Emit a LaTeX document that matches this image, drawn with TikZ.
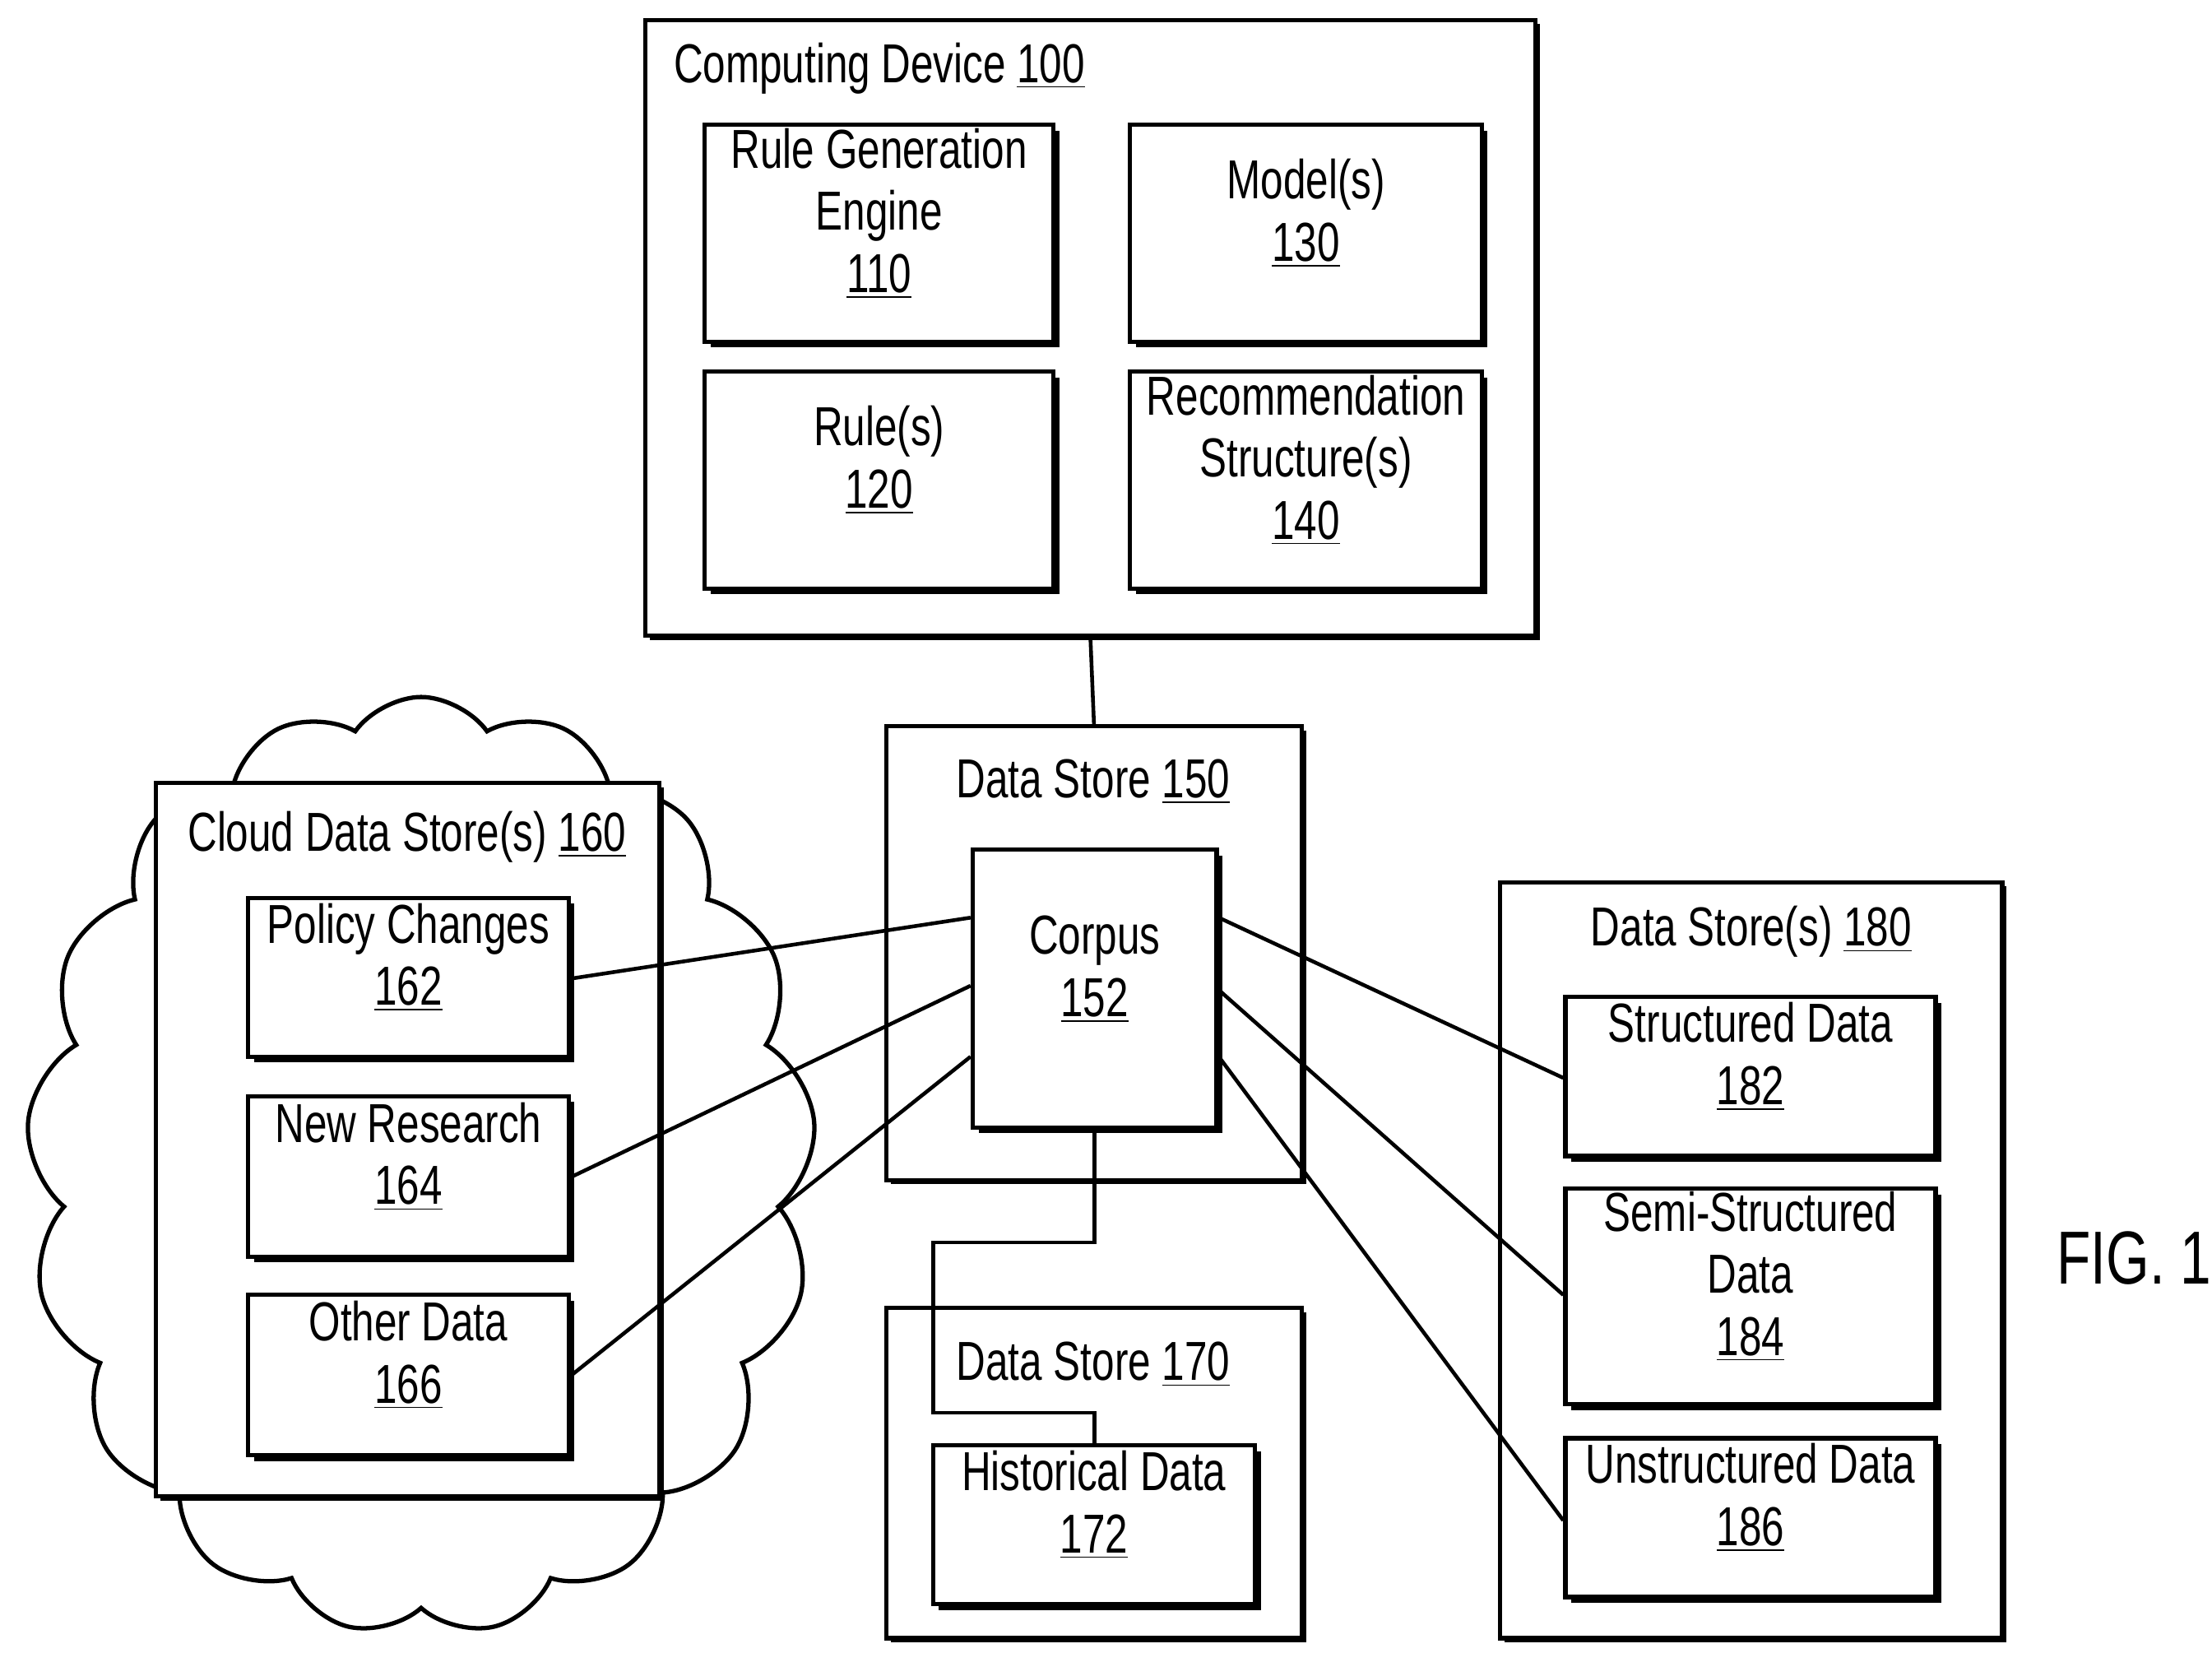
\documentclass[tikz,border=0pt]{standalone}
\usepackage{fontspec}
\setmainfont[FakeStretch=0.74]{Liberation Sans}
\usetikzlibrary{fit,shadows,shapes.symbols}
\begin{document}
\begin{tikzpicture}[x=0.01724cm,y=-0.01724cm,
 box/.style={draw,line width=1.5pt,fill=white,inner sep=0pt,align=center,
   font=\fontsize{19}{21.5}\selectfont,
   general shadow={fill=black,shadow xshift=2pt,shadow yshift=-2pt}},
 cont/.style={draw,line width=1.5pt,fill=white,inner sep=0pt,
   general shadow={fill=black,shadow xshift=1.5pt,shadow yshift=-1.5pt}},
 ttl/.style={font=\fontsize{19}{21.5}\selectfont},
 ln/.style={line width=1.3pt}]
\useasboundingbox (0,0) rectangle (1560,1165);
% computing device
\node[cont,fit={(455,14) (1083,448)}] (cd) {};
\node[ttl,anchor=west] (cdt) at (468,48) {Computing Device \underline{100}};
\node[box,fit={(497,88) (743,241)}] (rge) {Rule Generation\\Engine\\\underline{110}};
\node[box,fit={(797,88) (1045,241)}] (mod) {Model(s)\\\underline{130}};
\node[box,fit={(497,262) (743,415)}] (rul) {Rule(s)\\\underline{120}};
\node[box,fit={(797,262) (1045,415)}] (rec) {Recommendation\\Structure(s)\\\underline{140}};
% cloud
\node[draw,line width=1.5pt,cloud,cloud puffs=17,cloud puff arc=110,aspect=0.8,
  minimum width=9.6cm,minimum height=11.4cm] (cloud) at (297,822) {};
\node[cont,fit={(110,552) (465,1055)}] (cds) {};
\node[ttl] (cdst) at (287,590) {Cloud Data Store(s) \underline{160}};
\node[box,fit={(175,633) (401,745)}] (pc) {Policy Changes\\\underline{162}};
\node[box,fit={(175,773) (401,886)}] (nr) {New Research\\\underline{164}};
\node[box,fit={(175,913) (401,1026)}] (od) {Other Data\\\underline{166}};
% data store 150
\node[cont,fit={(625,512) (918,832)}] (ds150) {};
\node[ttl] (ds150t) at (771,551) {Data Store \underline{150}};
\node[box,fit={(686,599) (858,795)}] (corp) {Corpus\\\underline{152}};
% data store 170
\node[cont,fit={(625,922) (918,1155)}] (ds170) {};
\node[ttl] (ds170t) at (771,962) {Data Store \underline{170}};
\node[box,fit={(658,1019) (885,1131)}] (hist) {Historical Data\\\underline{172}};
% data store 180
\node[cont,fit={(1058,622) (1412,1155)}] (ds180) {};
\node[ttl] (ds180t) at (1235,657) {Data Store(s) \underline{180}};
\node[box,fit={(1104,703) (1365,815)}] (sd) {Structured Data\\\underline{182}};
\node[box,fit={(1104,838) (1365,990)}] (ssd) {Semi-Structured\\Data\\\underline{184}};
\node[box,fit={(1104,1014) (1365,1126)}] (ud) {Unstructured Data\\\underline{186}};
\node[font=\fontsize{26}{28}\selectfont] (fig) at (1505,887) {FIG. 1};
% connectors
\draw[ln] (cd.south) -- (ds150.north);
\draw[ln] (pc.east |- 0,690) -- (corp.west |- 0,647);
\draw[ln] (nr.east |- 0,830) -- (corp.west |- 0,695);
\draw[ln] (od.east |- 0,970) -- (corp.west |- 0,745);
\draw[ln] (corp.east |- 0,647) -- (sd.west |- 0,760);
\draw[ln] (corp.east |- 0,698) -- (ssd.west |- 0,913);
\draw[ln] (corp.east |- 0,745) -- (ud.west |- 0,1072);
\draw[ln] (corp.south -| 772,0) -- (772,876) -- (658,876) -- (658,996) -- (772,996) -- (hist.north -| 772,0);
\end{tikzpicture}
\end{document}
